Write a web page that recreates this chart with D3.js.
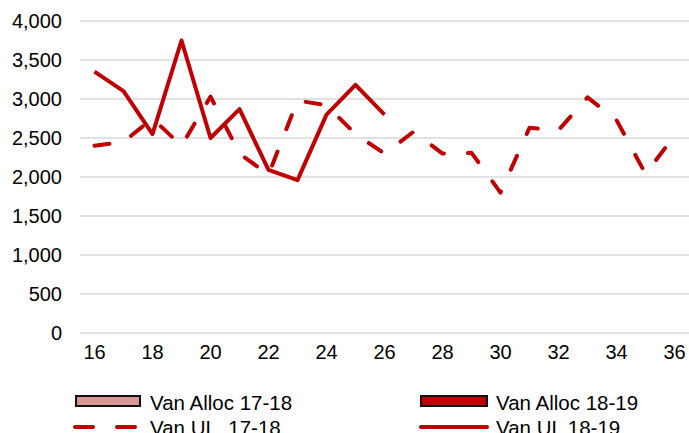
<!DOCTYPE html>
<html>
<head>
<meta charset="utf-8">
<script src="https://cdn.jsdelivr.net/npm/d3@7.9.0/dist/d3.min.js"></script>
<style>
  html, body { margin: 0; padding: 0; background: #fff; overflow: hidden; }
  svg { display: block; }
</style>
</head>
<body>
<svg id="chart" width="689" height="433"></svg>
<script>
// categories (week numbers) and series values
const weeks = [16, 17, 18, 19, 20, 21, 22, 23, 24, 25, 26, 27, 28, 29, 30, 31, 32, 33, 34, 35, 36];
const vanUL1718 = [2400, 2450, 2750, 2400, 3030, 2300, 2030, 2980, 2920, 2550, 2300, 2580, 2300, 2310, 1800, 2630, 2600, 3020, 2730, 2040, 2530];
const vanUL1819 = [3350, 3100, 2550, 3750, 2500, 2870, 2090, 1960, 2800, 3180, 2800];
const yTicks = [0, 500, 1000, 1500, 2000, 2500, 3000, 3500, 4000];
const xTickLabels = [16, 18, 20, 22, 24, 26, 28, 30, 32, 34, 36];
const seriesNames = ["Van Alloc 17-18", "Van Alloc 18-19", "Van UL_17-18", "Van UL 18-19"];

const red = "#c00000";
const font = "Liberation Sans, Arial, sans-serif";
const svg = d3.select("#chart");

// scales - category axis, each week one band
const x = d3.scaleBand().domain(weeks).range([80, 689]);
const y = d3.scaleLinear().domain([0, 4000]).range([333, 21]);

// gridlines
svg.append("g")
  .selectAll("line")
  .data(yTicks)
  .join("line")
  .attr("x1", 80).attr("x2", 689)
  .attr("y1", d => y(d)).attr("y2", d => y(d))
  .attr("stroke", "#d9d9d9")
  .attr("stroke-width", 1.5);

// y axis labels
const yAxis = svg.append("g")
  .attr("transform", "translate(62,0)")
  .call(d3.axisLeft(y).tickValues(yTicks).tickFormat(d3.format(",")).tickSize(0).tickPadding(0));
yAxis.select(".domain").remove();
yAxis.selectAll("text")
  .attr("font-family", font)
  .attr("font-size", 20)
  .attr("fill", "#000");

// x axis labels
const xAxis = svg.append("g")
  .attr("transform", "translate(0,345)")
  .call(d3.axisBottom(x).tickValues(xTickLabels).tickSize(0).tickPadding(0));
xAxis.select(".domain").remove();
xAxis.selectAll("text")
  .attr("font-family", font)
  .attr("font-size", 20)
  .attr("fill", "#000");

const line = d3.line()
  .defined(d => d[1] != null)
  .x(d => x(d[0]) + x.bandwidth() / 2)
  .y(d => y(d[1]));

// Van UL 17-18 (dashed)
svg.append("path")
  .datum(weeks.map((w, i) => [w, vanUL1718[i]]))
  .attr("d", line)
  .attr("fill", "none")
  .attr("stroke", red)
  .attr("stroke-width", 4)
  .attr("stroke-linecap", "round")
  .attr("stroke-linejoin", "round")
  .attr("stroke-dasharray", "15 24");

// Van UL 18-19 (solid)
svg.append("path")
  .datum(weeks.slice(0, vanUL1819.length).map((w, i) => [w, vanUL1819[i]]))
  .attr("d", line)
  .attr("fill", "none")
  .attr("stroke", red)
  .attr("stroke-width", 4)
  .attr("stroke-linejoin", "round");

// legend (2 x 2, bottom row is cut by the picture edge)
const legend = svg.append("g");

function legendText(tx, ty, label) {
  legend.append("text")
    .attr("x", tx).attr("y", ty)
    .attr("font-family", font)
    .attr("font-size", 20.5)
    .attr("fill", "#000")
    .text(label);
}

legend.append("rect")
  .attr("x", 76).attr("y", 396).attr("width", 64).attr("height", 10)
  .attr("fill", "#d99694").attr("stroke", "#111").attr("stroke-width", 2);
legendText(150, 410, seriesNames[0]);

legend.append("rect")
  .attr("x", 421).attr("y", 396).attr("width", 66).attr("height", 10)
  .attr("fill", red).attr("stroke", "#111").attr("stroke-width", 2);
legendText(496, 410, seriesNames[1]);

legend.append("line")
  .attr("x1", 75).attr("x2", 135).attr("y1", 427).attr("y2", 427)
  .attr("stroke", red).attr("stroke-width", 4)
  .attr("stroke-linecap", "round")
  .attr("stroke-dasharray", "18 24");
legendText(150, 434.5, seriesNames[2]);

legend.append("line")
  .attr("x1", 421).attr("x2", 487).attr("y1", 427).attr("y2", 427)
  .attr("stroke", red).attr("stroke-width", 4)
  .attr("stroke-linecap", "round");
legendText(496, 434.5, seriesNames[3]);
</script>
</body>
</html>
